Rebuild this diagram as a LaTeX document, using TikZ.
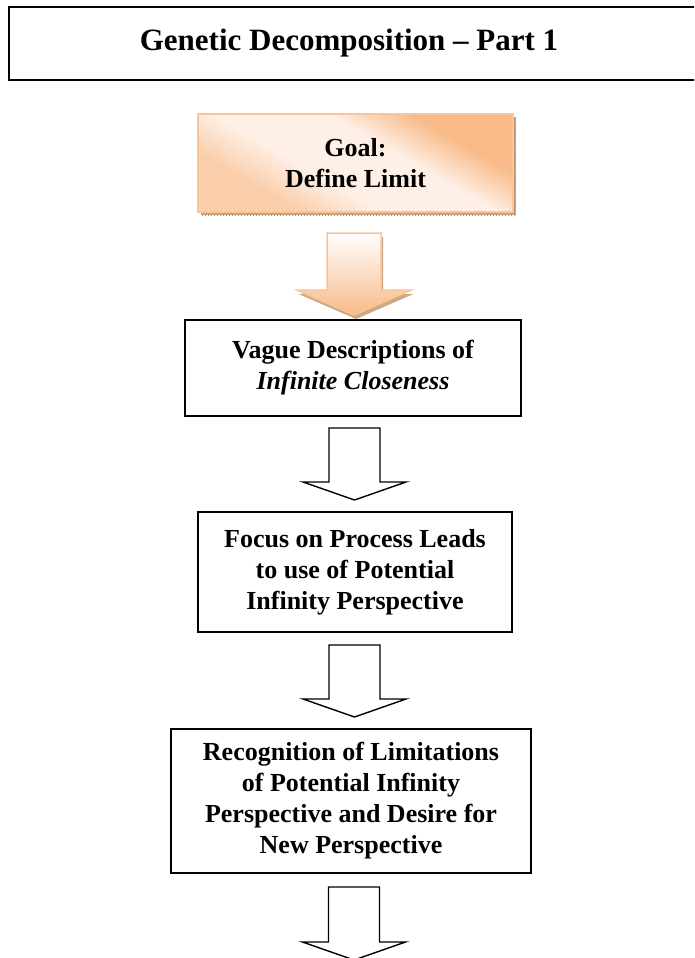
\documentclass[tikz,border=0pt]{standalone}
\usepackage{fontspec}
\setmainfont{Liberation Serif}
\usetikzlibrary{calc,patterns}
\definecolor{orng}{RGB}{248,186,136}
\definecolor{orngMid}{RGB}{250,206,170}
\definecolor{orngLight}{RGB}{254,240,230}
\definecolor{orngBorder}{RGB}{249,196,152}
\definecolor{shadowBrown}{RGB}{206,168,132}
\pgfdeclarehorizontalshading{goalshade}{100bp}{color(0bp)=(orngMid); color(30bp)=(orngMid); color(42bp)=(orngLight); color(58bp)=(orngLight); color(70bp)=(orng); color(100bp)=(orng)}
\begin{document}
\begin{tikzpicture}[x=1pt,y=-1pt,
  boxtext/.style={font=\bfseries\fontsize{26}{31}\selectfont, align=center, inner sep=0pt, outer sep=0pt},
  plainbox/.style={boxtext, draw=black, line width=1.5pt, fill=white},
  wblock/.style={draw=black, line width=1.4pt, fill=white, line join=miter,
    to path={let \p1=(\tikztostart), \p2=(\tikztotarget) in
      (\x1-25.5pt,\y1) -- (\x1+25.5pt,\y1) -- (\x1+25.5pt,\y2+18pt) -- (\x1+51.5pt,\y2+18pt)
      -- (\x2,\y2) -- (\x1-51.5pt,\y2+18pt) -- (\x1-25.5pt,\y2+18pt) -- cycle}},
  oblock/.style={line join=miter,
    to path={let \p1=(\tikztostart), \p2=(\tikztotarget) in
      (\x1-27pt,\y1) -- (\x1+27pt,\y1) -- (\x1+27pt,\y2+25pt) -- (\x1+57.5pt,\y2+25pt)
      -- (\x2,\y2) -- (\x1-57.5pt,\y2+25pt) -- (\x1-27pt,\y2+25pt) -- cycle}}
]
\clip (0,0) rectangle (694,958);
\fill[white] (0,0) rectangle (694,958);

% title
\draw[black, line width=2pt] (8.5,7) rectangle (720,80);
\node[inner sep=0pt, font=\bfseries\fontsize{31}{36}\selectfont] (title) at (349,43)
      {Genetic Decomposition -- Part 1};

% goal box
\node[boxtext, minimum width=315pt, minimum height=98pt] (goal) at (355.5,163) {};
\fill[shadowBrown] ([xshift=3pt,yshift=-3pt]goal.south west) rectangle ([xshift=3pt,yshift=-3pt]goal.north east);
\fill[pattern=crosshatch dots, pattern color=shadowBrown!70!black] ([xshift=3pt,yshift=-3pt]goal.south west) rectangle ([xshift=3pt,yshift=-3pt]goal.north east);
\shade[draw=orngBorder, line width=1.5pt, shading=goalshade, shading angle=60]
  (goal.south west) rectangle (goal.north east);
\node[boxtext] (goaltext) at (goal.center) {Goal:\\Define Limit};

% other boxes
\node[plainbox, minimum width=336pt, minimum height=96pt] (vague) at (353,368)
  {Vague Descriptions of\\\textit{Infinite Closeness}};
\node[plainbox, minimum width=314pt, minimum height=120pt] (focus) at (355,572)
  {Focus on Process Leads\\to use of Potential\\Infinity Perspective};
\node[plainbox, minimum width=360pt, minimum height=144pt] (recog) at (351,801)
  {Recognition of Limitations\\of Potential Infinity\\Perspective and Desire for\\New Perspective};

% arrow coordinates
\coordinate (a1s) at ($(goal.south)+(-1.5,21)$);
\coordinate (a1e) at ($(vague.north)+(1,-5)$);
\coordinate (a2s) at ($(vague.south)+(1.5,12)$);
\coordinate (a2e) at ($(focus.north)+(-0.5,-12)$);
\coordinate (a3s) at ($(focus.south)+(-0.5,13)$);
\coordinate (a3e) at ($(recog.north)+(3.5,-12)$);
\coordinate (a4s) at ($(recog.south)+(3,14)$);
\coordinate (a4e) at ($(recog.south)+(3,87)$);

% orange arrow
\fill[shadowBrown, transform canvas={shift={(2pt,-4pt)}}] (a1s) to[oblock] (a1e);
\shade[draw=orngBorder, line width=1.5pt, top color=white, bottom color=orng] (a1s) to[oblock] (a1e);

% white arrows
\draw[wblock] (a2s) to (a2e);
\draw[wblock] (a3s) to (a3e);
\draw[wblock] (a4s) to (a4e);
\end{tikzpicture}
\end{document}
